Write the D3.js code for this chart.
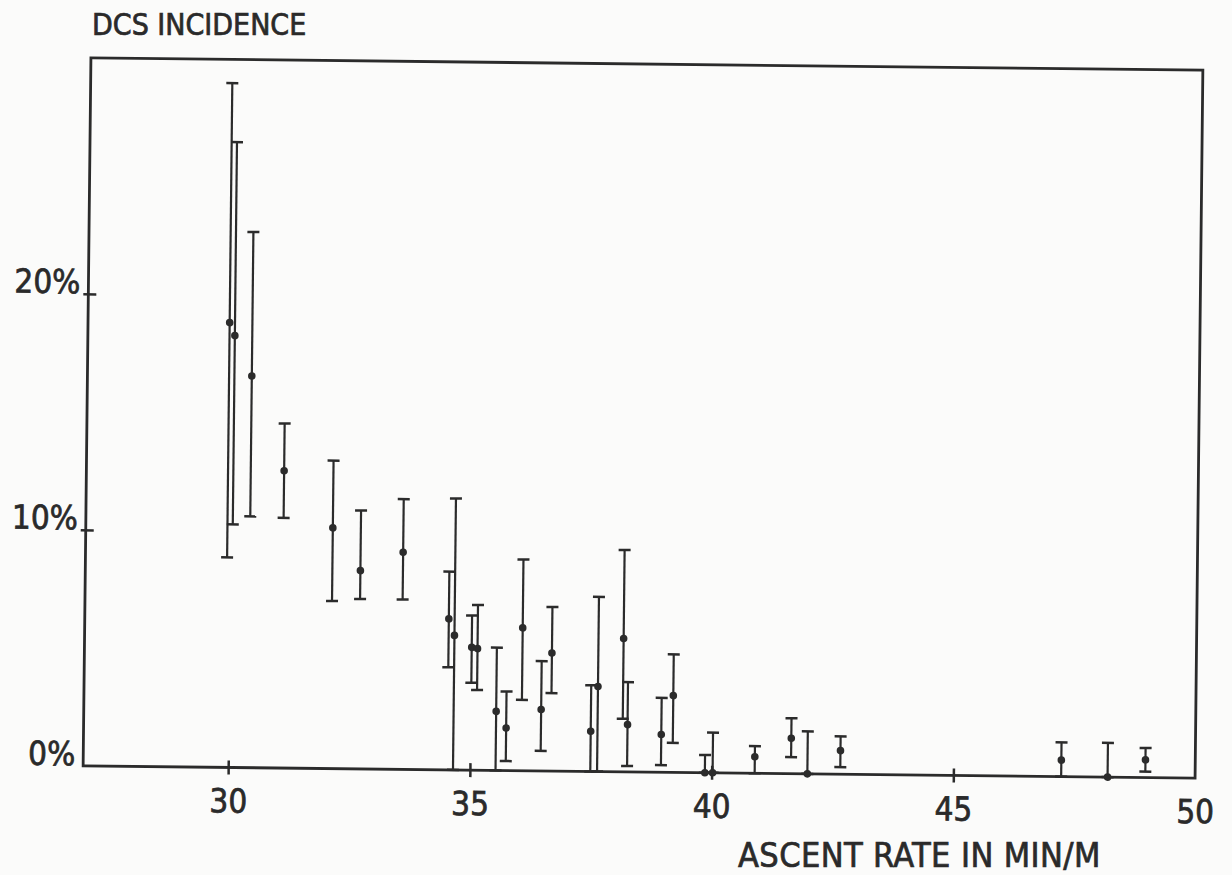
<!DOCTYPE html>
<html>
<head>
<meta charset="utf-8">
<script src="https://cdn.jsdelivr.net/npm/d3@7"></script>
<style>
body { margin: 0; background: #fbfbfa; }
text { font-family: "DejaVu Sans Condensed", "DejaVu Sans", sans-serif; fill: #2a2a2a;
	stroke: #2a2a2a; stroke-width: 0.7px; }
</style>
</head>
<body>
<svg id="chart" width="1232" height="875"></svg>
<script>
// ascent rate in min/m for each group
var rate = [29.93, 30.04, 30.40, 31.09, 32.11, 32.69, 33.57, 34.53, 34.65, 35.01, 35.13,
	35.53, 35.74, 36.06, 36.46, 36.67, 37.49, 37.63, 38.15, 38.25, 38.95, 39.19,
	39.86, 40.02, 40.89, 41.64, 41.98, 42.66, 47.23, 48.19, 48.97];
// DCS incidence (%)
var incidence = [18.85, 18.3, 16.6, 12.6, 10.2, 8.4, 9.2, 6.4, 5.7, 5.2, 5.15,
	2.5, 1.8, 6.05, 2.6, 5.0, 1.7, 3.6, 5.65, 2.0, 1.6, 3.25,
	0, 0, 0.7, 1.5, 0, 1.0, 0.7, 0, 0.75];
// confidence limits (%)
var lower = [8.9, 10.3, 10.65, 10.6, 7.1, 7.2, 7.2, 4.35, 0, 3.7, 3.4,
	0, 0.4, 3.0, 0.85, 3.3, 0, 0, 2.25, 0.25, 0.3, 1.25,
	0, 0, 0, 0.7, 0, 0.3, 0, 0, 0.25];
var upper = [29.0, 26.5, 22.7, 14.6, 13.05, 10.95, 11.45, 8.4, 11.5, 6.55, 7.0,
	5.2, 3.35, 8.95, 4.65, 6.95, 3.65, 7.4, 9.4, 3.8, 3.15, 5.0,
	0.75, 1.7, 1.15, 2.35, 1.8, 1.6, 1.45, 1.45, 1.25];

var xTicks = [30, 35, 40, 45, 50];
var yTicks = [0, 10, 20];

var ink = "#2b2b2b";
var svg = d3.select("#chart");

var x = d3.scaleLinear().domain([27, 50]).range([87, 1199]);
var y = d3.scaleLinear().domain([0, 30]).range([772, 64]);

// the scanned original sits a little crooked, so turn the plot with it
var g = svg.append("g").attr("transform", "rotate(0.63, 643, 418)");

g.append("rect")
	.attr("x", x(27)).attr("y", y(30))
	.attr("width", x(50) - x(27)).attr("height", y(0) - y(30))
	.attr("fill", "none").attr("stroke", ink).attr("stroke-width", 2.8);

// x axis: ticks cross the line
var xAxis = g.append("g").attr("transform", "translate(0," + y(0) + ")")
	.call(d3.axisBottom(x).tickValues(xTicks).tickSize(7));
xAxis.select(".domain").remove();
xAxis.selectAll("line").attr("y1", -7).attr("stroke", ink).attr("stroke-width", 2.5)
	.style("display", function(d) { return d == 50 ? "none" : null; });
xAxis.selectAll("text").attr("y", 45).attr("dy", 0)
	.style("font-size", "33px").style("font-family", null).attr("fill", null);

// y axis
var yAxis = g.append("g").attr("transform", "translate(" + x(27) + ",0)")
	.call(d3.axisLeft(y).tickValues(yTicks).tickSize(5).tickPadding(3)
		.tickFormat(function(d) { return d + "%"; }));
yAxis.select(".domain").remove();
yAxis.selectAll("line").attr("x1", 8).attr("stroke", ink).attr("stroke-width", 2.5)
	.style("display", function(d) { return d == 0 ? "none" : null; });
yAxis.selectAll("text").attr("dy", -1)
	.style("font-size", "33px").style("font-family", null).attr("fill", null);

// error bars
var capW = 6;
var bars = g.selectAll(".bar").data(rate).enter().append("g").attr("class", "bar");

bars.append("line")
	.attr("x1", function(d) { return x(d); }).attr("x2", function(d) { return x(d); })
	.attr("y1", function(d, i) { return y(lower[i]); })
	.attr("y2", function(d, i) { return y(upper[i]); })
	.attr("stroke", ink).attr("stroke-width", 2.2);

bars.append("line")
	.attr("x1", function(d) { return x(d) - capW; }).attr("x2", function(d) { return x(d) + capW; })
	.attr("y1", function(d, i) { return y(upper[i]); })
	.attr("y2", function(d, i) { return y(upper[i]); })
	.attr("stroke", ink).attr("stroke-width", 2.5);

bars.append("line")
	.attr("x1", function(d) { return x(d) - capW; }).attr("x2", function(d) { return x(d) + capW; })
	.attr("y1", function(d, i) { return y(lower[i]); })
	.attr("y2", function(d, i) { return y(lower[i]); })
	.attr("stroke", ink).attr("stroke-width", 2.5);

bars.append("circle")
	.attr("cx", function(d) { return x(d); })
	.attr("cy", function(d, i) { return y(incidence[i]); })
	.attr("r", 3.8).attr("fill", ink);

// titles
svg.append("text").attr("x", 92).attr("y", 35)
	.style("font-size", "30px").text("DCS INCIDENCE");

svg.append("text").attr("x", 738).attr("y", 867)
	.style("font-size", "34px").style("letter-spacing", "0.4px").text("ASCENT RATE IN MIN/M");
</script>
</body>
</html>
